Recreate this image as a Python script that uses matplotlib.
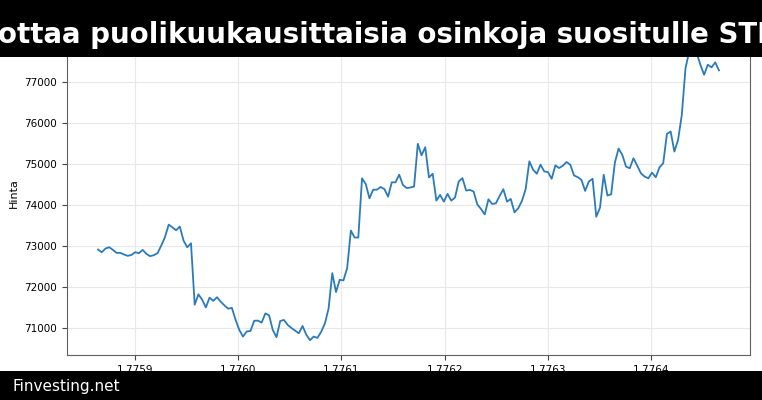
import numpy as np
import matplotlib
matplotlib.use('Agg')
import matplotlib.pyplot as plt
from matplotlib.patches import Rectangle

# chart texts
title_text = 'ottaa puolikuukausittaisia osinkoja suositulle STRC'
footer_text = 'Finvesting.net'
y_label = 'Hinta'

# hourly prices, first timestamp (unix seconds)
start_ts = 1775864400
step_s = 3600
price = [
    72913, 72848, 72937, 72970, 72905, 72832, 72832, 72792, 72759, 72783,
    72848, 72824, 72905, 72808, 72751, 72775, 72824, 73011, 73213, 73521,
    73456, 73384, 73473, 73130, 72967, 73067, 71568, 71820, 71690, 71500,
    71740, 71660, 71750, 71640, 71550, 71470, 71490, 71195, 70950, 70790,
    70915, 70925, 71175, 71180, 71130, 71355, 71310, 70950, 70775, 71170,
    71195, 71075, 71000, 70935, 70870, 71049, 70838, 70700, 70790, 70757,
    70903, 71105, 71470, 72338, 71876, 72176, 72160, 72460, 73376, 73206,
    73206, 74650, 74512, 74163, 74374, 74374, 74439, 74390, 74204, 74553,
    74553, 74739, 74488, 74414, 74426, 74451, 75492, 75213, 75410, 74672,
    74762, 74107, 74246, 74082, 74270, 74107, 74180, 74574, 74656, 74352,
    74369, 74328, 74016, 73902, 73770, 74139, 74025, 74041, 74221, 74385,
    74082, 74148, 73820, 73918, 74098, 74385, 75066, 74861, 74762, 74984,
    74820, 74803, 74639, 74967, 74902, 74959, 75049, 74984, 74721, 74680,
    74615, 74344, 74574, 74639, 73713, 73934, 74738, 74230, 74262, 75035,
    75377, 75222, 74937, 74896, 75141, 74962, 74774, 74693, 74652, 74791,
    74676, 74921, 75019, 75736, 75793, 75304, 75589, 76200, 77341, 77750,
    77900, 77700, 77423, 77178, 77423, 77358, 77480, 77284,
]

ts = start_ts + step_s * np.arange(len(price))

fig = plt.figure(figsize=(7.62, 4.0), dpi=100)
ax = fig.add_axes([0.0879, 0.1125, 0.8964, 0.8115])

ax.plot(ts, price, color='#2b7bba', lw=1.3)
ax.grid(True, color='#e8e8e8', lw=0.8)
ax.set_axisbelow(True)
ax.set_ylabel(y_label, fontsize=8)
ax.tick_params(labelsize=7.5, color='#444444')
for s in ax.spines.values():
    s.set_color('#606060')

# black banners on top and bottom
fig.patches.append(Rectangle((0, 0.8575), 1, 0.1425, transform=fig.transFigure,
                             facecolor='black', edgecolor='none', zorder=10))
fig.patches.append(Rectangle((0, 0), 1, 0.0725, transform=fig.transFigure,
                             facecolor='black', edgecolor='none', zorder=10))
fig.text(-0.002, 0.8925, title_text, ha='left', va='baseline', color='white',
         fontsize=19.9, fontweight='bold', zorder=11)
fig.text(0.016, 0.023, footer_text, ha='left', va='baseline', color='white',
         fontsize=11, zorder=11)

plt.savefig('out.png', dpi=100)
